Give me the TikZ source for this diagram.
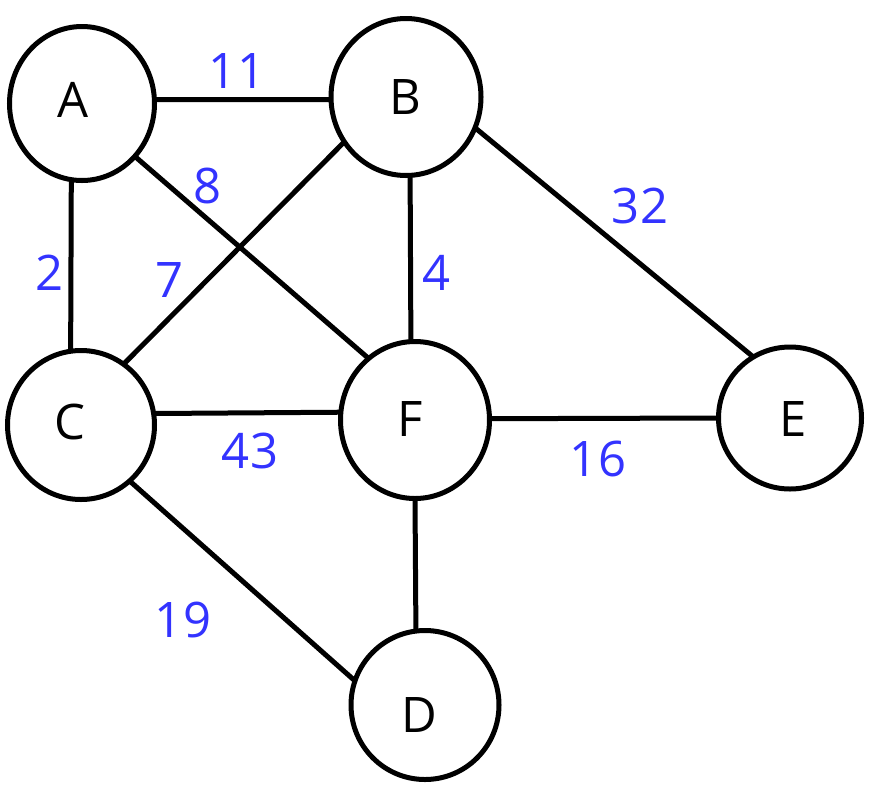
\documentclass[tikz,border=0pt]{standalone}
\usepackage{fontspec}
\setmainfont{Open Sans}
\usetikzlibrary{shapes.geometric}
\definecolor{lbl}{RGB}{51,51,255}
\begin{document}
\begin{tikzpicture}[x=1pt,y=-1pt,
  vtx/.style={ellipse, draw, line width=5pt, inner sep=0pt, outer sep=0pt},
  lettr/.style={font=\fontsize{49}{50}\selectfont, inner sep=0pt},
  wt/.style={text=lbl, font=\fontsize{49}{50}\selectfont, anchor=base, inner sep=0pt},
  edge/.style={line width=5pt}]
\useasboundingbox (0,0) rectangle (894,804);
\node[vtx, minimum width=145pt, minimum height=154pt, label={[lettr, xshift=-9pt, yshift=4pt]center:A}] (A) at (82,103.5) {};
\node[vtx, minimum width=150pt, minimum height=157pt, label={[lettr, xshift=-1pt]center:B}] (B) at (406,97) {};
\node[vtx, minimum width=147pt, minimum height=149pt, label={[lettr, xshift=-11pt, yshift=3.5pt]center:C}] (C) at (81,425) {};
\node[vtx, minimum width=149pt, minimum height=157pt, label={[lettr, xshift=-5pt, yshift=1pt]center:F}] (F) at (415,420) {};
\node[vtx, minimum width=143pt, minimum height=142pt, label={[lettr, xshift=3pt, yshift=-1.5pt]center:E}] (E) at (790,418) {};
\node[vtx, minimum width=148pt, minimum height=149pt, label={[lettr, xshift=-6pt, yshift=-9.5pt]center:D}] (D) at (425,705) {};
\draw[edge] (A.3) -- (B.182);
\draw[edge] (A.-98) -- (C.98);
\draw[edge] (A.-45) -- (F.127.4);
\draw[edge] (C.55.1) -- (B.216.6);
\draw[edge] (B.-87.1) -- (F.93.6);
\draw[edge] (B.-24) -- (E.121);
\draw[edge] (C.9.3) -- (F.174.6);
\draw[edge] (F.1.5) -- (E.180);
\draw[edge] (F.-90) -- (D.97.7);
\draw[edge] (C.-49.2) -- (D.161.6);
\node[wt] (w11) at (237,88) {11};
\node[wt] (w8) at (208,203) {8};
\node[wt] (w2) at (50,290) {2};
\node[wt] (w7) at (170,297) {7};
\node[wt] (w4) at (437,290) {4};
\node[wt] (w32) at (640,223) {32};
\node[wt] (w43) at (250,468) {43};
\node[wt] (w16) at (598,476) {16};
\node[wt] (w19) at (183,637) {19};
\end{tikzpicture}
\end{document}
